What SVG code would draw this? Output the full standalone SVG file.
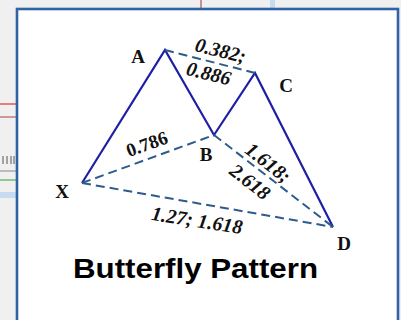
<svg xmlns="http://www.w3.org/2000/svg" width="401" height="320" viewBox="0 0 401 320">
<style>
.solid{stroke:#1f1fa6;stroke-width:2.2;fill:none;stroke-linejoin:miter}
.dash{stroke:#2d5c8c;stroke-width:2;fill:none;stroke-dasharray:9 5}
.pt{font-family:"Liberation Serif",serif;font-weight:bold;font-size:19px;fill:#111}
.lbl{font-family:"Liberation Serif",serif;font-weight:bold;font-style:italic;font-size:20px;fill:#111}
.lblu{font-family:"Liberation Serif",serif;font-weight:bold;font-size:19px;fill:#111}
</style>
<rect x="0" y="0" width="401" height="320" fill="#f0f0f0"/>
<g id="background">
<line x1="0" y1="104" x2="16" y2="104" stroke="#e03030" stroke-width="1.2"/>
<line x1="0" y1="117" x2="16" y2="117" stroke="#b06060" stroke-width="1.2"/>
<line x1="3" y1="156" x2="3" y2="164" stroke="#555" stroke-width="1"/>
<line x1="7" y1="156" x2="7" y2="164" stroke="#555" stroke-width="1"/>
<line x1="11" y1="156" x2="11" y2="164" stroke="#555" stroke-width="1"/>
<line x1="14" y1="156" x2="14" y2="164" stroke="#555" stroke-width="1"/>
<line x1="0" y1="171" x2="16" y2="171" stroke="#aaa" stroke-width="1.5"/>
<line x1="0" y1="180" x2="16" y2="180" stroke="#4cb050" stroke-width="1.2"/>
<rect x="0" y="192" width="16" height="6" fill="#c6daf0"/>
<line x1="201" y1="0" x2="201" y2="8" stroke="#a03030" stroke-width="1"/>
<rect x="270" y="0" width="5" height="8" fill="#c6daf0"/>
</g>
<rect id="frame" x="17" y="9" width="381" height="320" fill="#ffffff" stroke="#2f63a6" stroke-width="2.6"/>
<g id="connectors">
<polyline class="solid" points="82,183 165,50 214,135 255,73 333,227"/>
<line class="dash" x1="165" y1="50" x2="255" y2="73"/>
<line class="dash" x1="82" y1="183" x2="214" y2="135"/>
<line class="dash" x1="214" y1="135" x2="333" y2="227"/>
<line class="dash" x1="82" y1="183" x2="333" y2="227"/>
</g>
<g id="X"><text class="pt" x="62" y="198" text-anchor="middle">X</text></g>
<g id="A"><text class="pt" x="138" y="63" text-anchor="middle">A</text></g>
<g id="B"><text class="pt" x="206" y="161" text-anchor="middle">B</text></g>
<g id="C"><text class="pt" x="286" y="92" text-anchor="middle">C</text></g>
<g id="D"><text class="pt" x="344" y="250" text-anchor="middle">D</text></g>
<g id="labels">
<text class="lbl" transform="translate(219,57) rotate(14)" text-anchor="middle">0.382;</text>
<text class="lbl" transform="translate(207,80) rotate(14)" text-anchor="middle">0.886</text>
<text class="lblu" transform="translate(149,150) rotate(-20)" text-anchor="middle">0.786</text>
<text class="lbl" transform="translate(264,168) rotate(38)" text-anchor="middle">1.618;</text>
<text class="lbl" transform="translate(246,187) rotate(38)" text-anchor="middle">2.618</text>
<text class="lbl" transform="translate(196,227) rotate(9)" text-anchor="middle">1.27; 1.618</text>
</g>
<g id="title"><text x="73" y="278" font-family="'Liberation Sans',Arial,sans-serif" font-weight="bold" font-size="28" fill="#000" textLength="245" lengthAdjust="spacingAndGlyphs">Butterfly Pattern</text></g>
</svg>
